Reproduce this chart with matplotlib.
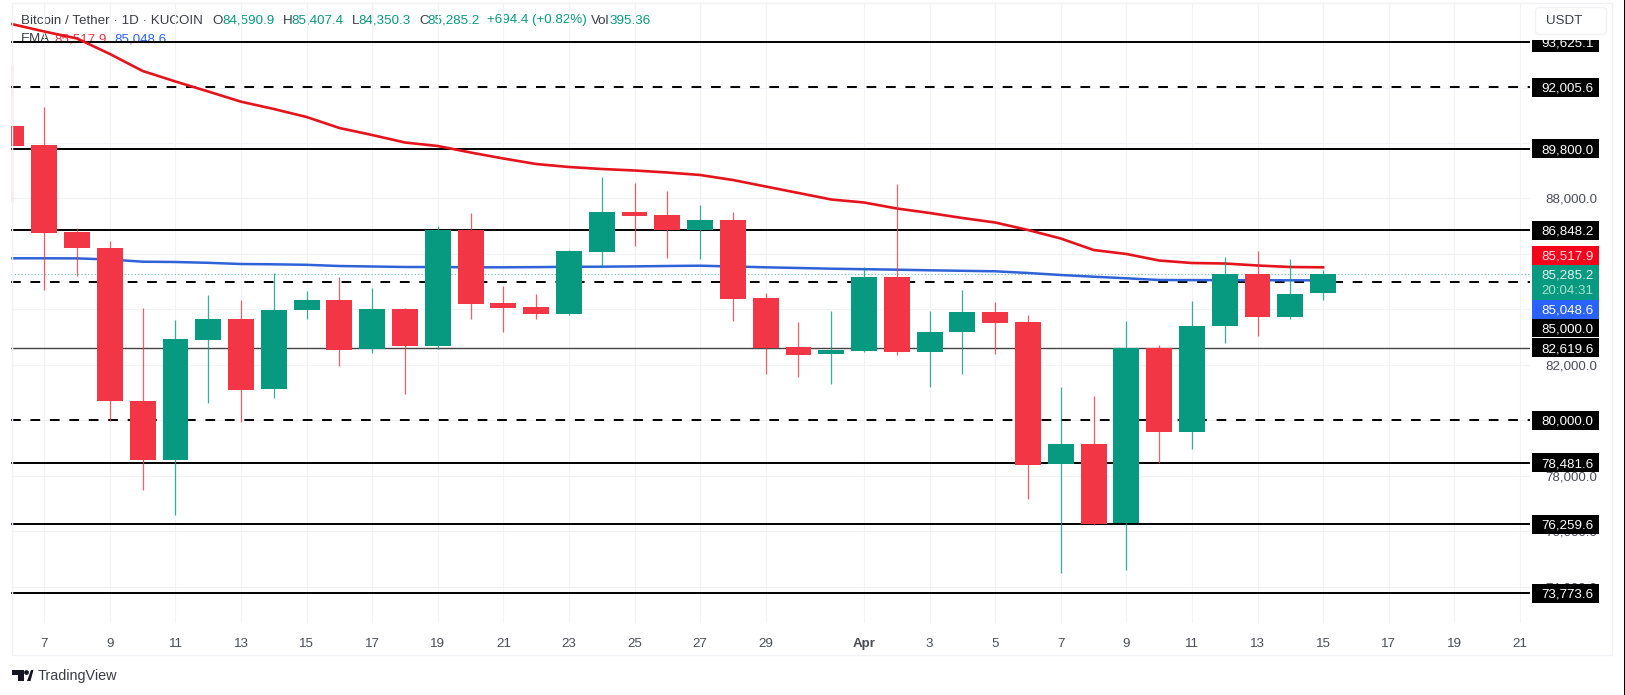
import matplotlib
matplotlib.use("Agg")
import matplotlib.pyplot as plt
from matplotlib.patches import Rectangle, FancyBboxPatch, Polygon, Circle
from matplotlib.transforms import Affine2D
import numpy as np

plt.rcParams["font.family"] = ["Liberation Sans", "DejaVu Sans"]

W, H = 1625, 695

# daily candles, Mar 6 (-1) to Apr 15 (39)
days = list(range(-1, 40))
opens = [90613, 89928, 86781, 86226, 80710, 78583, 82898, 83666, 81121, 83980, 84340, 82585, 84016, 82693,
         86864, 84221, 84088, 83846, 86082, 87502, 87405, 86864, 87235, 84412, 82657, 82383, 82513, 85169,
         82476, 83197, 83897, 83536, 78417, 79149, 76301, 82610, 79592, 83392, 85267, 83738, 84590.9]
closes = [89903, 86766, 86215, 80688, 78583, 82924, 83666, 81085, 83991, 84340, 82549, 84016, 82693, 86864,
          84196, 84063, 83846, 86107, 87502, 87379, 86864, 87235, 84387, 82619, 82358, 82538, 85169, 82476,
          83176, 83897, 83522, 78392, 79149, 76260, 82620, 79592, 83403, 85267, 83738, 84567, 85285.2]
highs = [92812, 91287, 86925, 86478, 84041, 83619, 84521, 84340, 85303, 84665, 85159, 84762, 84050, 87008,
         87466, 84845, 84546, 86143, 88764, 88569, 88270, 87754, 87502, 84603, 83536, 83933, 85541, 88511,
         83933, 84701, 84257, 83789, 81193, 80879, 83572, 82718, 84315, 85901, 86096, 85808, 85407.4]
lows = [87884, 84701, 85216, 79989, 77480, 76600, 80638, 79953, 80818, 83645, 81961, 82440, 80962, 82585,
        83645, 83187, 83645, 83810, 85541, 86298, 85865, 85829, 83583, 81673, 81575, 81312, 82455, 82347,
        81215, 81662, 82404, 77156, 74488, 76230, 74607, 78475, 78969, 82801, 83053, 83666, 84350.3]

ema_red = [94290, 94020, 93767, 93209, 92596, 92217, 91857, 91489, 91226, 90937, 90541, 90288, 90018, 89892,
           89658, 89441, 89243, 89135, 89063, 89009, 88937, 88847, 88666, 88432, 88198, 87963, 87855, 87639,
           87477, 87296, 87134, 86864, 86557, 86143, 85999, 85764, 85674, 85656, 85584, 85530, 85517.9]
ema_blue = [85844, 85844, 85840, 85800, 85721, 85710, 85681, 85638, 85627, 85609, 85566, 85548, 85530, 85530,
            85519, 85519, 85526, 85537, 85541, 85552, 85566, 85577, 85548, 85519, 85494, 85469, 85451, 85433,
            85411, 85393, 85375, 85314, 85242, 85180, 85123, 85061, 85058, 85055, 85052, 85050, 85048.6]

# horizontal levels
solid_levels = [93625.1, 89800.0, 86848.2, 78481.6, 76259.6, 73773.6]
thin_levels = [82619.6]
dashed_levels = [92005.6, 85000.0, 80000.0]
last_price = 85285.2

# axes ticks
price_ticks = [74000, 76000, 78000, 80000, 82000, 84000, 86000, 88000, 90000, 92000]
date_ticks = [0, 2, 4, 6, 8, 10, 12, 14, 16, 18, 20, 22, 25, 27, 29, 31, 33, 35, 37, 39, 41, 43, 45]
date_labels = ["7", "9", "11", "13", "15", "17", "19", "21", "23", "25", "27", "29", "Apr",
               "3", "5", "7", "9", "11", "13", "15", "17", "19", "21"]

# header texts
header_main = "Bitcoin / Tether · 1D · KUCOIN"
header_ohlc = [("O", "84,590.9", 212.5, 222), ("H", "85,407.4", 283, 291),
               ("L", "84,350.3", 352, 358), ("C", "85,285.2", 419, 427)]
header_change = "+694.4 (+0.82%)"
header_vol = "395.36"

RED = "#F23645"
GREEN = "#089981"
BLUE = "#2962FF"
DARK = "#3a3d46"
GRID = "#f2f3f6"

fig = plt.figure(figsize=(W / 100, H / 100), dpi=100, facecolor="white")
ax = fig.add_axes([11 / W, (H - 623) / H, (1530 - 11) / W, 620 / H])
ax.set_facecolor("none")
ax.set_xlim((11 - 44.3) / 32.79, (1530 - 44.3) / 32.79)
ax.set_ylim(85000 + (281.7 - 623) * 36.05, 85000 + (281.7 - 3) * 36.05)

# pixel coordinates of the picture, origin top left
px = Affine2D().scale(1, -1).translate(0, H)

for s in ax.spines.values():
    s.set_visible(False)

ax.set_yticks(price_ticks)
ax.set_yticklabels([f"{p:,.1f}" for p in price_ticks], fontsize=9.6, color="#4a4d57")
ax.yaxis.tick_right()
ax.set_xticks(date_ticks)
ax.set_xticklabels(date_labels, fontsize=9.6, color="#4a4d57")
ax.get_xticklabels()[12].set_fontweight("bold")
ax.tick_params(axis="both", length=0)
ax.tick_params(axis="y", pad=11)
ax.tick_params(axis="x", pad=11)
ax.grid(True, color=GRID, linewidth=0.8)
ax.set_axisbelow(True)

# frame around the chart
fig.add_artist(Rectangle((11.7, 3), 1600.3, 652, transform=px, fill=False, edgecolor="#f0f2f6", linewidth=1))
fig.add_artist(Rectangle((1624, 0), 1, H, transform=px, facecolor="black", edgecolor="none"))

# header, under the levels as in the screenshot
ax.text(21, 20.5, header_main, transform=px, fontsize=9.6, color=DARK, va="center", zorder=0.5)
for letter, value, x_letter, x_value in header_ohlc:
    ax.text(x_letter, 20.5, letter, transform=px, fontsize=9.6, color=DARK, va="center", zorder=0.5)
    ax.text(x_value, 20.5, value, transform=px, fontsize=9.6, color=GREEN, va="center", zorder=0.5)
ax.text(487, 20.5, header_change, transform=px, fontsize=9.6, color=GREEN, va="center", zorder=0.5)
ax.text(591, 20.5, "Vol", transform=px, fontsize=9.6, color=DARK, va="center", zorder=0.5)
ax.text(610, 20.5, header_vol, transform=px, fontsize=9.6, color=GREEN, va="center", zorder=0.5)
ax.text(21, 39.5, "EMA", transform=px, fontsize=9.6, color=DARK, va="center", zorder=0.5)
ax.text(54.5, 39.5, f"{ema_red[-1]:,.1f}", transform=px, fontsize=9.6, color=RED, va="center", zorder=0.5)
ax.text(114.5, 39.5, f"{ema_blue[-1]:,.1f}", transform=px, fontsize=9.6, color=BLUE, va="center", zorder=0.5)

# levels
ax.axhline(last_price, color=GREEN, linewidth=0.8, linestyle=(0, (1, 2)), alpha=0.6, zorder=1)
for p in solid_levels:
    ax.axhline(p, color="black", linewidth=1.4, zorder=1.2)
for p in thin_levels:
    ax.axhline(p, color="#444444", linewidth=1.0, zorder=1.2)
for p in dashed_levels:
    ax.axhline(p, color="black", linewidth=1.4, linestyle=(0, (5, 5)), zorder=1.2)

# EMAs
ax.plot(days, ema_blue, color="#2f62d9", linewidth=1.8, zorder=1.5)
ax.plot(days, ema_red, color="#e5141c", linewidth=1.9, zorder=1.5)

# candles
x = np.array(days)
o = np.array(opens)
c = np.array(closes)
colors = [GREEN if ci >= oi else RED for oi, ci in zip(o, c)]
ax.vlines(x, lows, highs, colors=colors, linewidth=0.9, alpha=0.8, zorder=2)
ax.bar(x, np.abs(c - o), bottom=np.minimum(o, c), width=0.79, color=colors, zorder=3)


def price_tag(price, text, bg, fg="white", shift=0):
    y = H - ax.transData.transform((0, price))[1] - shift
    ax.add_patch(Rectangle((1532, y - 9.5), 67, 19, transform=px, facecolor=bg, edgecolor="none",
                           clip_on=False, zorder=10))
    ax.text(1567.5, y, text, transform=px, color=fg, fontsize=9.6, ha="center", va="center_baseline", zorder=11)


for p in solid_levels + dashed_levels[:1] + dashed_levels[2:] + thin_levels:
    price_tag(p, f"{p:,.1f}", "black")
price_tag(dashed_levels[1], f"{dashed_levels[1]:,.1f}", "black", shift=-46)
price_tag(ema_blue[-1], f"{ema_blue[-1]:,.1f}", "#2962FF", shift=-29)
price_tag(ema_red[-1], f"{ema_red[-1]:,.1f}", "#F7001C", fg="#ffe3e5", shift=12)

# last price tag has the countdown under the price
ax.add_patch(Rectangle((1532, 265), 67, 34.5, transform=px, facecolor=GREEN, edgecolor="none",
                       clip_on=False, zorder=10))
ax.text(1567.5, 273.5, f"{last_price:,.1f}", transform=px, color="#e6f7f2", fontsize=9.6, ha="center",
        va="center_baseline", zorder=11)
ax.text(1567.5, 289.5, "20:04:31", transform=px, color="#a5e2d0", fontsize=9.6, ha="center",
        va="center_baseline", zorder=11)

# currency button hides the top of the first tag
ax.add_patch(Rectangle((1530, 5), 72, 34.5, transform=px, facecolor="white", edgecolor="none",
                       clip_on=False, zorder=12))
ax.add_patch(FancyBboxPatch((1538, 10), 66, 22, boxstyle="round,pad=2.5,rounding_size=4", transform=px,
                            facecolor="white", edgecolor="#f0f2f6", linewidth=1, clip_on=False, zorder=13))
ax.text(1546, 21, "USDT", transform=px, fontsize=9.6, color=DARK, va="center", zorder=14)

# TradingView logo
logo = [Polygon([(12, 670), (24, 670), (24, 681), (18, 681), (18, 675), (12, 675)], closed=True),
        Circle((26.5, 672.5), 2.4),
        Polygon([(27, 681), (31, 670), (33.5, 670), (30.5, 681)], closed=True)]
for patch in logo:
    patch.set(transform=px, facecolor="#131722", edgecolor="none")
    fig.add_artist(patch)
ax.text(38, 676, "TradingView", transform=px, fontsize=10.4, color="#3a3d46", va="center")

fig.savefig("out.png", dpi=100)
